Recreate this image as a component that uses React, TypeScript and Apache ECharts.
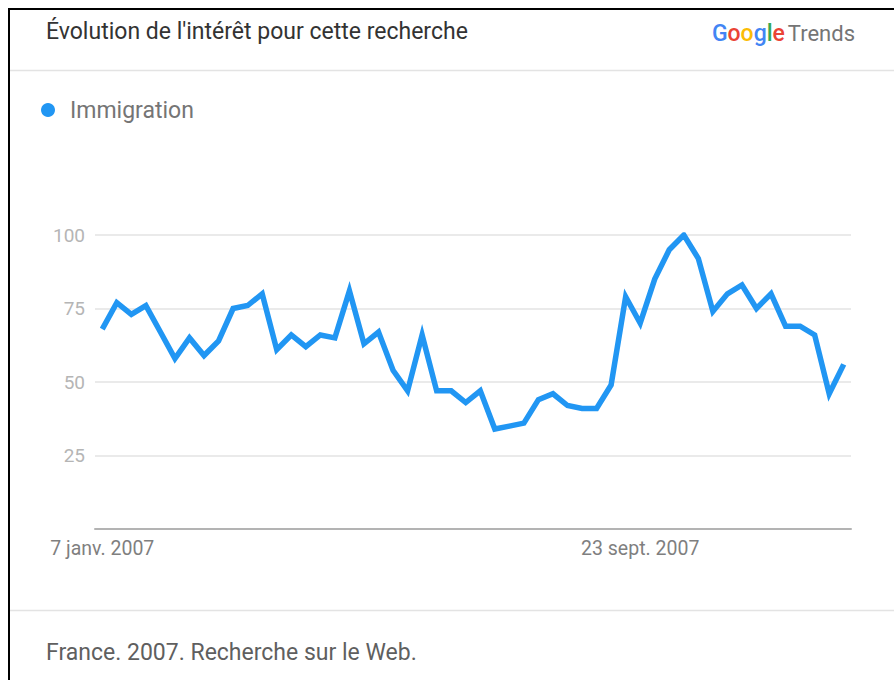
import React, { useEffect, useRef } from "react";
import * as echarts from "echarts";

const seriesName = "Immigration";

const categories = [
  "7 janv. 2007", "14 janv. 2007", "21 janv. 2007", "28 janv. 2007",
  "4 févr. 2007", "11 févr. 2007", "18 févr. 2007", "25 févr. 2007",
  "4 mars 2007", "11 mars 2007", "18 mars 2007", "25 mars 2007",
  "1 avr. 2007", "8 avr. 2007", "15 avr. 2007", "22 avr. 2007", "29 avr. 2007",
  "6 mai 2007", "13 mai 2007", "20 mai 2007", "27 mai 2007",
  "3 juin 2007", "10 juin 2007", "17 juin 2007", "24 juin 2007",
  "1 juil. 2007", "8 juil. 2007", "15 juil. 2007", "22 juil. 2007", "29 juil. 2007",
  "5 août 2007", "12 août 2007", "19 août 2007", "26 août 2007",
  "2 sept. 2007", "9 sept. 2007", "16 sept. 2007", "23 sept. 2007", "30 sept. 2007",
  "7 oct. 2007", "14 oct. 2007", "21 oct. 2007", "28 oct. 2007",
  "4 nov. 2007", "11 nov. 2007", "18 nov. 2007", "25 nov. 2007",
  "2 déc. 2007", "9 déc. 2007", "16 déc. 2007", "23 déc. 2007", "30 déc. 2007",
];

const values = [
  68, 77, 73, 76, 67, 58, 65, 59, 64, 75,
  76, 80, 61, 66, 62, 66, 65, 81, 63, 67,
  54, 47, 66, 47, 47, 43, 47, 34, 35, 36,
  44, 46, 42, 41, 41, 49, 79, 70, 85, 95,
  100, 92, 74, 80, 83, 75, 80, 69, 69, 66,
  46, 56,
];

const shownLabels = ["7 janv. 2007", "23 sept. 2007"];
const yTicks = [0, 25, 50, 75, 100];

const titleText = "Évolution de l'intérêt pour cette recherche";
const footerText = "France. 2007. Recherche sur le Web.";

export default function App() {
  const ref = useRef<HTMLDivElement>(null);

  useEffect(() => {
    if (!ref.current) return;
    const chart = echarts.init(ref.current, null, { renderer: "svg" });
    const font = "Roboto, 'Noto Sans', sans-serif";
    const lineColor = "#2196f3";
    chart.setOption({
      animation: false,
      backgroundColor: "#ffffff",
      textStyle: { fontFamily: font },
      grid: { left: 95, right: 43, top: 235, bottom: 151, containLabel: false },
      legend: { show: false },
      xAxis: {
        type: "category",
        data: categories,
        boundaryGap: true,
        axisLine: { show: true, lineStyle: { color: "#b3b3b3", width: 2 } },
        axisTick: { show: false },
        axisLabel: {
          interval: (_i: number, v: string) => shownLabels.includes(v),
          color: "#7f7f7f",
          fontSize: 19.5,
          margin: 9,
          fontFamily: font,
        },
        splitLine: { show: false },
      },
      yAxis: {
        type: "value",
        min: yTicks[0],
        max: yTicks[yTicks.length - 1],
        interval: 25,
        axisLine: { show: false },
        axisTick: { show: false },
        axisLabel: {
          showMinLabel: false,
          color: "#b5b5b5",
          fontSize: 19,
          margin: 10,
          fontFamily: font,
        },
        splitLine: {
          show: true,
          lineStyle: { color: "#e3e3e3", width: 1.5 },
          showMinLine: false,
        },
      },
      series: [
        {
          name: seriesName,
          type: "line",
          data: values,
          symbol: "none",
          showSymbol: false,
          lineStyle: { color: lineColor, width: 5.5, join: "miter" },
          itemStyle: { color: lineColor },
        },
      ],
      graphic: [
        { type: "line", shape: { x1: 8, y1: 9, x2: 894, y2: 9 }, style: { stroke: "#000", lineWidth: 2 } },
        { type: "line", shape: { x1: 9, y1: 8, x2: 9, y2: 680 }, style: { stroke: "#000", lineWidth: 2 } },
        { type: "line", shape: { x1: 10, y1: 70.5, x2: 894, y2: 70.5 }, style: { stroke: "#e3e3e3", lineWidth: 1.5 } },
        { type: "line", shape: { x1: 10, y1: 610.5, x2: 894, y2: 610.5 }, style: { stroke: "#e3e3e3", lineWidth: 1.5 } },
        {
          type: "text",
          x: 46,
          y: 31,
          style: { text: titleText, fontSize: 23, fill: "#333333", fontFamily: font, verticalAlign: "middle" },
        },
        {
          type: "text",
          x: 855,
          y: 33,
          style: {
            text: "{b|G}{r|o}{y|o}{b|g}{g|l}{r|e} {t|Trends}",
            align: "right",
            verticalAlign: "middle",
            fontFamily: font,
            rich: {
              b: { fill: "#4285f4", fontSize: 23, fontWeight: 500, fontFamily: font },
              r: { fill: "#ea4335", fontSize: 23, fontWeight: 500, fontFamily: font },
              y: { fill: "#fbbc05", fontSize: 23, fontWeight: 500, fontFamily: font },
              g: { fill: "#34a853", fontSize: 23, fontWeight: 500, fontFamily: font },
              t: { fill: "#757575", fontSize: 22, fontFamily: font },
            },
          },
        },
        { type: "circle", shape: { cx: 48, cy: 110, r: 7 }, style: { fill: lineColor } },
        {
          type: "text",
          x: 70,
          y: 110,
          style: { text: seriesName, fontSize: 23, fill: "#757575", fontFamily: font, verticalAlign: "middle" },
        },
        {
          type: "text",
          x: 46,
          y: 652,
          style: { text: footerText, fontSize: 23, fill: "#5f5f5f", fontFamily: font, verticalAlign: "middle" },
        },
      ],
    });
    return () => chart.dispose();
  }, []);

  return (
    <div
      ref={ref}
      style={{ position: "fixed", left: 0, top: 0, width: 894, height: 680 }}
    />
  );
}
